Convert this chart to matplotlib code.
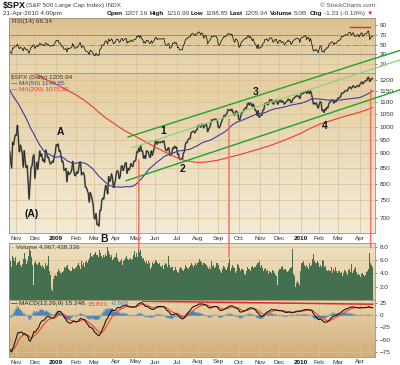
import matplotlib
matplotlib.use('Agg')
import matplotlib.pyplot as plt
import matplotlib.colors as mcolors
from matplotlib.patches import ConnectionPatch
from matplotlib.ticker import NullLocator
import numpy as np
import pandas as pd

plt.rcParams['font.family'] = ['Liberation Sans', 'DejaVu Sans']

# closes before the visible window, only used to warm up RSI / MACD / MA(50)
warmup_close = [1260, 1249, 1285, 1289, 1266, 1296, 1305, 1290, 1286, 1293, 1298, 1279, 1267, 1275,
                1278, 1292, 1267, 1272, 1282, 1301, 1283,
                1278, 1275, 1237, 1242, 1268, 1225, 1232, 1249, 1252, 1193, 1214, 1156, 1207, 1255,
                1207, 1188, 1186, 1209, 1213, 1106, 1166,
                1161, 1114, 1099, 1057, 996, 985, 910, 899, 1003, 998, 908, 946, 941, 985, 955, 897]

close_2008 = [908, 877, 849, 941, 930, 954, 969,
              966, 1006, 953, 905, 931, 919, 899, 852, 911, 873, 851, 859, 807, 752, 800, 852, 857, 888, 896,
              816, 849, 871, 845, 876, 910, 889, 899, 874, 880, 869, 913, 904, 885, 888, 872, 863, 868, 873,
              869, 891, 903]
close_2009 = [932, 927, 935, 907, 910, 890, 871, 872, 843, 844, 850, 805, 840, 828, 832, 836, 845, 874, 845, 826,
              825, 838, 832, 845, 869, 870, 827, 834, 835, 826, 789, 788, 779, 770, 743, 773, 764, 753, 735,
              700, 696, 712, 682, 683, 677, 720, 721, 750, 756, 753, 778, 795, 785, 768, 823, 806, 813, 832, 816, 787, 798,
              811, 835, 842, 836, 815, 825, 856, 858, 841, 852, 865, 869, 832, 850, 843, 851, 866, 857, 855, 873, 873,
              877, 907, 903, 920, 907, 929, 909, 908, 883, 893, 882, 909, 908, 904, 888, 887, 910, 893, 906, 919,
              942, 945, 932, 942, 940, 939, 942, 940, 944, 946, 923, 911, 910, 918, 921, 893, 895, 900, 920, 918, 927, 919,
              923, 896, 898, 881, 879, 882, 879, 901, 906, 932, 940, 940, 951, 954, 954, 976, 979, 982, 979, 975, 986, 987,
              1002, 1005, 1002, 997, 1010, 1007, 994, 1005, 1012, 1005, 979, 990, 996, 1007, 1026, 1025, 1028, 1028, 1030,
              1029, 1021,
              998, 995, 1003, 1016, 1025, 1033, 1044, 1042, 1049, 1053, 1068, 1066, 1068, 1064, 1071, 1061, 1050, 1044,
              1063, 1060, 1057,
              1030, 1025, 1040, 1054, 1057, 1065, 1071, 1076, 1073, 1092, 1096, 1087, 1098, 1091, 1081, 1093, 1079, 1066,
              1063, 1043, 1066, 1036,
              1042, 1045, 1046, 1066, 1069, 1093, 1093, 1099, 1088, 1094, 1110, 1110, 1110, 1095, 1091, 1106, 1105, 1110,
              1091, 1096,
              1109, 1109, 1099, 1105, 1103, 1092, 1095, 1102, 1106, 1114, 1108, 1110, 1097, 1102, 1114, 1118, 1121, 1126,
              1128, 1126, 1126, 1115]
close_2010 = [1133, 1137, 1137, 1142, 1145, 1147, 1137, 1146, 1148, 1136, 1150, 1138, 1116, 1091, 1096, 1092, 1097,
              1084, 1074,
              1090, 1103, 1098, 1063, 1066, 1056, 1071, 1068, 1078, 1075, 1094, 1099, 1106, 1109, 1108, 1095, 1105,
              1102, 1105,
              1115, 1119, 1119, 1123, 1139, 1139, 1141, 1146, 1151, 1150, 1150, 1160, 1166, 1166, 1160, 1166, 1174,
              1168, 1165, 1167, 1173, 1174, 1169,
              1178, 1187, 1190, 1182, 1187, 1194, 1197, 1197, 1211, 1212, 1192, 1198, 1207, 1206]

# volume, billions of shares
vol_2008 = [6.1, 5.8, 5.0, 6.6, 6.3, 5.9, 6.4,
            5.3, 5.6, 5.7, 5.9, 5.2, 4.9, 5.4, 6.1, 7.0, 6.2, 5.4, 5.8, 6.6, 7.6, 7.3, 6.4, 5.7, 5.2, 2.3,
            5.6, 5.8, 5.4, 5.3, 5.5, 5.7, 5.2, 5.0, 5.3, 4.9, 4.6, 5.6, 5.1, 5.3, 6.6, 4.3, 3.7, 1.6, 1.3, 3.2, 3.6, 3.8]
vol_2009 = [3.6, 4.2, 4.6, 4.3, 4.1, 4.0, 4.2, 4.4, 4.9, 5.0, 4.8, 5.1, 5.2, 4.7, 4.5, 4.3, 4.4, 5.0, 4.6, 4.7,
            4.8, 5.0, 5.3, 5.5, 5.1, 4.7, 5.9, 5.3, 5.6, 4.9, 5.7, 5.9, 5.5, 6.0, 6.3, 7.0, 6.6, 6.4, 6.8,
            6.9, 7.2, 6.8, 7.0, 6.8, 6.5, 7.5, 7.0, 6.6, 6.3, 6.7, 6.4, 6.9, 6.6, 8.0, 7.4, 6.9, 6.5, 6.8, 6.0, 6.2, 6.4,
            6.5, 7.1, 6.3, 5.9, 5.7, 5.8, 6.1, 5.2, 5.8, 6.0, 6.3, 6.6, 6.2, 6.0, 6.1, 5.9, 6.3, 6.0, 6.2, 6.8, 7.3,
            6.4, 7.0, 6.5, 7.7, 7.2, 7.5, 6.6, 6.2, 6.3, 5.9, 5.6, 5.8, 5.4, 5.9, 5.5, 4.6, 5.0, 5.7, 5.4, 5.6,
            6.0, 5.8, 5.6, 5.4, 5.5, 5.1, 4.9, 5.3, 5.0, 4.6, 5.3, 5.5, 5.4, 4.9, 6.6, 5.2, 4.8, 4.9, 5.0, 4.4, 4.5, 4.9,
            4.5, 4.2, 4.0, 4.6, 4.9, 4.8, 4.5, 4.3, 4.6, 5.2, 4.9, 4.8, 4.7, 5.0, 5.3, 5.6, 5.2, 5.0, 5.3, 5.1, 5.5, 5.2,
            5.6, 5.7, 6.1, 5.8, 5.7, 5.2, 5.5, 5.6, 5.4, 5.3, 5.0, 4.7, 4.9, 4.6, 5.8, 5.1, 5.3, 4.8, 5.0, 5.5, 5.6,
            5.3, 4.6, 4.3, 4.0, 4.7, 5.1, 5.0, 4.6, 4.5, 5.0, 5.8, 5.6, 6.2, 4.4, 4.8, 5.3, 4.9, 4.8, 4.1, 4.4, 5.4,
            5.3, 4.8, 4.4, 4.7, 4.6, 4.5, 3.9, 3.8, 4.4, 5.0, 4.7, 4.6, 4.4, 4.9, 5.1, 4.8, 4.9, 5.0, 5.3, 5.6, 5.5, 5.9,
            5.0, 5.2, 5.3, 4.8, 4.3, 4.6, 4.8, 4.3, 4.5, 3.9, 4.3, 4.2, 4.1, 4.5, 4.4, 4.1, 3.8, 3.6, 2.2, 4.4,
            4.7, 4.6, 4.9, 5.1, 4.5, 4.6, 4.7, 4.4, 4.2, 4.4, 4.6, 4.8, 4.9, 7.6, 4.1, 3.9, 3.6, 1.9, 2.5, 2.8, 2.5, 2.3]
vol_2010 = [4.3, 5.5, 5.6, 5.8, 5.2, 5.0, 5.3, 4.9, 4.6, 5.6, 5.1, 5.3, 6.2, 6.9, 5.8, 5.6, 5.5, 5.9, 5.6,
            5.0, 5.3, 4.9, 6.0, 5.8, 4.9, 5.1, 4.9, 4.5, 4.4, 4.5, 4.4, 4.3, 4.9, 4.1, 4.6, 4.3, 4.9, 4.4,
            4.0, 4.4, 4.3, 4.1, 4.2, 3.6, 4.1, 4.5, 4.3, 4.0, 3.8, 4.5, 4.6, 4.2, 5.4, 4.0, 4.3, 4.6, 4.9, 4.2, 3.8, 3.9, 4.1,
            3.7, 3.5, 3.9, 4.1, 3.8, 3.6, 3.8, 4.2, 4.4, 4.6, 7.0, 5.5, 5.3, 4.97]

holidays = ['2008-11-27', '2008-12-25', '2009-01-01', '2009-01-19', '2009-02-16', '2009-04-10',
            '2009-05-25', '2009-07-03', '2009-09-07', '2009-11-26', '2009-12-25', '2010-01-01',
            '2010-01-18', '2010-02-15', '2010-04-02']
month_labels = ['Nov', 'Dec', '2009', 'Feb', 'Mar', 'Apr', 'May', 'Jun', 'Jul', 'Aug', 'Sep', 'Oct',
                'Nov', 'Dec', '2010', 'Feb', 'Mar', 'Apr']

# 200-day average
ma200_dates = ['2008-11-03', '2008-11-17', '2008-12-01', '2008-12-15', '2009-01-02', '2009-01-15',
               '2009-02-02', '2009-02-17', '2009-03-02', '2009-03-16', '2009-04-01', '2009-04-15',
               '2009-05-01', '2009-05-15', '2009-06-01', '2009-06-15', '2009-07-01', '2009-07-15',
               '2009-08-03', '2009-08-17', '2009-09-01', '2009-09-15', '2009-10-01', '2009-10-15',
               '2009-11-02', '2009-11-16', '2009-12-01', '2009-12-15', '2010-01-04', '2010-01-19',
               '2010-02-01', '2010-02-16', '2010-03-01', '2010-03-15', '2010-04-01', '2010-04-21']
ma200_vals = [1290, 1262, 1232, 1205, 1180, 1158, 1133, 1105, 1075, 1040, 1008, 985, 962, 942, 923, 905,
              886, 875, 869, 871, 877, 885, 895, 905, 917, 928, 941, 955, 974, 993, 1009, 1021, 1032, 1044,
              1058, 1077]

# hand drawn trend channel (date, price) pairs
chan_upper = [('2009-04-21', 960), ('2010-04-16', 1297)]
chan_light = [('2009-04-27', 920), ('2010-04-16', 1248)]
chan_lower = [('2009-04-17', 809), ('2010-04-16', 1110)]
# red marker lines: date, top price, bottom volume
mark_dates = ['2009-05-06', '2009-09-17', '2010-04-19']
mark_top = [878, 1030, 1154]
mark_bottom = [7.5, 6.4, 7.9]
macd_trend = [('2009-05-12', 28.5), ('2010-04-21', 22.5)]
rsi_mark = [('2010-03-18', 85), ('2010-04-16', 85)]
wave_labels = [('A', '2009-01-08', 980), ('(A)', '2008-11-25', 709), ('B', '2009-03-16', 645),
               ('1', '2009-06-11', 982), ('2', '2009-07-10', 848), ('3', '2009-10-26', 1145),
               ('4', '2010-02-09', 1003)]

price_ticks = [700, 750, 800, 850, 900, 950, 1000, 1050, 1100, 1150, 1200]
rsi_ticks = [10, 30, 50, 70, 90]
vol_ticks = [2, 4, 6, 8]
macd_ticks = [-75, -50, -25, 0, 25]

# ---------------------------------------------------------------
dates = pd.bdate_range('2008-10-23', '2010-04-21')
dates = dates[~dates.isin(pd.to_datetime(holidays))]
close = np.array(close_2008 + close_2009 + close_2010, dtype=float)
vol = np.array(vol_2008 + vol_2009 + vol_2010)
assert len(dates) == len(close) == len(vol), (len(dates), len(close), len(vol))
n = len(close)
x = np.arange(n)
pos = {d.strftime('%Y-%m-%d'): i for i, d in enumerate(dates)}

full = pd.Series(warmup_close + list(close))
w = len(warmup_close)
ma50 = full.rolling(50).mean().values[w:]
diff = full.diff()
up = diff.clip(lower=0).ewm(alpha=1 / 14, adjust=False).mean()
dn = (-diff.clip(upper=0)).ewm(alpha=1 / 14, adjust=False).mean()
rsi = (100 - 100 / (1 + up / dn)).values[w:]
macd = full.ewm(span=12, adjust=False).mean() - full.ewm(span=26, adjust=False).mean()
sig = macd.ewm(span=9, adjust=False).mean()
macd = macd.values[w:]
sig = sig.values[w:]
hist = macd - sig

m = dates.to_period('M')
month_pos = np.where(m[1:] != m[:-1])[0] + 1

W, H = 400, 365
fig = plt.figure(figsize=(4.0, 3.65), dpi=100)
fig.patch.set_facecolor('white')


def box(top, bottom):
    return [9 / W, 1 - bottom / H, 366 / W, (bottom - top) / H]


ax_r = fig.add_axes(box(18, 73))
ax_p = fig.add_axes(box(73, 233))
ax_v = fig.add_axes(box(243, 300))
ax_m = fig.add_axes(box(300, 357))
ax_p.set_zorder(3)

grid_c = '#d6c093'
spine_c = '#9c9078'
txt_c = '#333333'
FS = 4.6


def shade(ax, top, bottom):
    c0 = np.array(mcolors.to_rgb(top))
    c1 = np.array(mcolors.to_rgb(bottom))
    g = np.linspace(0, 1, 80)[:, None, None]
    img = c0 * (1 - g) + c1 * g
    ax.imshow(img, extent=[0, 1, 0, 1], transform=ax.transAxes, aspect='auto',
              origin='upper', zorder=-10, interpolation='bilinear')


shade(ax_r, '#dcc18f', '#ead8b3')
shade(ax_p, '#e4cd9f', '#f3ebd9')
shade(ax_v, '#eee1c1', '#e2ca9b')
shade(ax_m, '#e9d5ab', '#d2ad78')

for ax in (ax_r, ax_p, ax_v, ax_m):
    ax.set_xlim(-0.7, n + 1.5)
    ax.set_axisbelow(True)
    ax.set_xticks(month_pos)
    ax.grid(True, color=grid_c, lw=0.5)
    ax.yaxis.tick_right()
    ax.tick_params(axis='y', labelsize=FS, colors=txt_c, length=1.5, width=0.4, pad=2)
    ax.tick_params(axis='x', length=0, labelsize=FS, colors=txt_c, pad=1.8)
    for s in ax.spines.values():
        s.set_color(spine_c)
        s.set_linewidth(0.6)

# RSI
ax_r.set_ylim(-8.5, 104.4)
ax_r.set_yticks(rsi_ticks)
ax_r.set_xticklabels([])
for lvl, ls in ((70, '-'), (30, '-'), (50, '-.')):
    ax_r.axhline(lvl, color='#8e8676', lw=0.6, ls=ls, zorder=1)
ax_r.plot(x, rsi, color='#111111', lw=0.55)
ax_r.plot([pos[d] for d, _ in rsi_mark], [v for _, v in rsi_mark], color='#e8281e', lw=1.0)

# price
ax_p.set_yscale('log')
ax_p.set_ylim(659.5, 1233)
ax_p.set_yticks(price_ticks)
ax_p.set_yticklabels([str(t) for t in price_ticks])
ax_p.yaxis.set_minor_locator(NullLocator())
ax_p.set_xticklabels(month_labels)
for lab in ax_p.get_xticklabels():
    if lab.get_text().isdigit():
        lab.set_fontweight('bold')
        lab.set_color('#111111')
ax_p.plot(x, close, color='#74746a', lw=1.25, solid_joinstyle='miter')
ax_p.plot(x, close, color='#151515', lw=0.45)
ax_p.plot(x, ma50, color='#3c3c9e', lw=0.8)
ax_p.plot([pos[d] for d in ma200_dates], ma200_vals, color='#f03a2e', lw=0.8)

x_edge = n + 1.5 + (400 - 375) / (366 / (n + 2.2))
for pts, col, lw in ((chan_upper, '#1fa329', 1.0), (chan_light, '#8fd07a', 0.9), (chan_lower, '#1fa329', 1.0)):
    (d0, p0), (d1, p1) = pts
    i0, i1 = pos[d0], pos[d1]
    slope = (np.log(p1) - np.log(p0)) / (i1 - i0)
    xs = np.array([i0, x_edge])
    ax_p.plot(xs, np.exp(np.log(p0) + slope * (xs - i0)), color=col, lw=lw, clip_on=False, zorder=6)

for s, d, p in wave_labels:
    ax_p.text(pos[d], p, s, fontsize=7.5, fontweight='bold', color='#111111',
              ha='center', va='center', zorder=7, clip_on=False)

# volume
ax_v.bar(x, vol, width=1.0, color='#44704f', linewidth=0)
ax_v.set_ylim(0, 8.55)
ax_v.set_yticks(vol_ticks)
ax_v.set_yticklabels(['%.1f' % t for t in vol_ticks])
ax_v.set_xticklabels([])
ax_v.grid(False, axis='x')

# MACD
ax_m.set_ylim(-85.2, 31.1)
ax_m.set_yticks(macd_ticks)
ax_m.fill_between(x, 0, hist, color='#3b7fc2', lw=0, alpha=0.9)
ax_m.plot(x, hist, color='#8597ac', lw=0.5)
ax_m.plot(x, sig, color='#f2392c', lw=0.75)
ax_m.plot(x, macd, color='#111111', lw=0.75)
ax_m.plot([pos[d] for d, _ in macd_trend], [v for _, v in macd_trend], color='#e8281e', lw=1.1)
ax_m.set_xticklabels(month_labels)
for lab in ax_m.get_xticklabels():
    if lab.get_text().isdigit():
        lab.set_fontweight('bold')
        lab.set_color('#111111')

# red marker lines from price panel down into volume panel
for d, top, bot in zip(mark_dates, mark_top, mark_bottom):
    con = ConnectionPatch(xyA=(pos[d], top), coordsA='data', axesA=ax_p,
                          xyB=(pos[d], bot), coordsB='data', axesB=ax_v,
                          color='#ee6a5e', lw=1.1, alpha=0.9)
    con.set_zorder(20)
    fig.add_artist(con)

# ---------------- texts ----------------
fig.canvas.draw()
rend = fig.canvas.get_renderer()


def run(x_px, y_px, pieces, size=FS, gap=1.6):
    for s, weight, col in pieces:
        t = fig.text(x_px / W, 1 - y_px / H, s, fontsize=size, fontweight=weight, color=col,
                     ha='left', va='center')
        x_px += t.get_window_extent(renderer=rend).width + gap


run(3, 5.5, [('$SPX', 'bold', '#111111')], size=6.5)
run(26, 5.5, [('(S&P 500 Large Cap Index) INDX', 'normal', '#444444')])
fig.text(375 / W, 1 - 5.5 / H, '\u00a9 StockCharts.com', fontsize=FS, color='#555555', ha='right', va='center')
run(3, 13.5, [('21-Apr-2010 4:00pm', 'normal', '#333333')])
run(107, 13.5, [('Open', 'bold', '#111111'), ('1207.16', 'normal', '#444444'),
                ('High', 'bold', '#111111'), ('1210.99', 'normal', '#444444'),
                ('Low', 'bold', '#111111'), ('1198.85', 'normal', '#444444'),
                ('Last', 'bold', '#111111'), ('1205.94', 'normal', '#444444'),
                ('Volume', 'bold', '#111111'), ('5.0B', 'normal', '#444444'),
                ('Chg', 'bold', '#111111'), ('-1.23 (-0.10%)', 'normal', '#444444'),
                ('\u25bc', 'normal', '#e02020')], gap=1.8)

run(12, 21.5, [('RSI(14) 66.34', 'normal', '#333333')])
run(11, 77.5, [('$SPX (Daily) 1205.94', 'normal', '#333333')])
run(11, 83.5, [('\u2014', 'bold', '#3c3c9e'), ('MA(50) 1149.85', 'normal', '#3c3c9e')])
run(11, 89.5, [('\u2014', 'bold', '#f03a2e'), ('MA(200) 1075.80', 'normal', '#f03a2e')])
run(16, 246.5, [('Volume 4,967,438,336', 'normal', '#333333')])
run(11, 303.5, [('\u2014', 'bold', '#111111'), ('MACD(12,26,9) 15.248,', 'normal', '#222222'),
                ('15.813,', 'normal', '#f03a2e'), ('-0.565', 'normal', '#3b7fc2')])

fig.savefig('out.png', dpi=100, facecolor='white')
